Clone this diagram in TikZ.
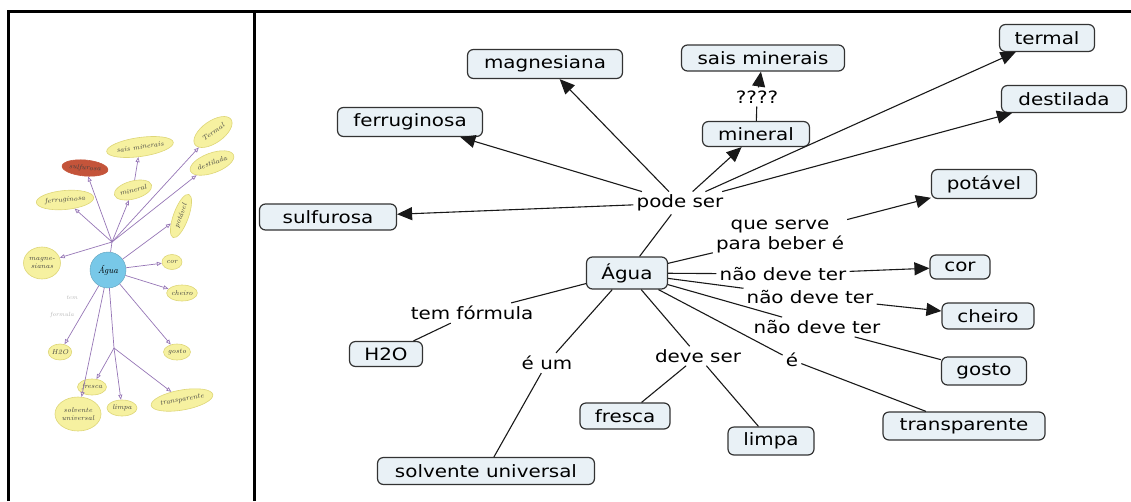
\documentclass[tikz,border=0pt]{standalone}
\usepackage{xcolor}
\usepackage{fontspec}
\usepackage{tikz}
\usetikzlibrary{shapes.geometric, arrows.meta, positioning}
\newfontfamily\cmapfont[FakeStretch=1.17]{DejaVu Sans}
\definecolor{cmapfill}{RGB}{233, 241, 246}
\definecolor{photoyellow}{RGB}{246, 241, 160}
\definecolor{photoedge}{RGB}{222, 214, 120}
\definecolor{photoblue}{RGB}{120, 200, 232}
\definecolor{photored}{RGB}{196, 84, 58}
\definecolor{photopurple}{RGB}{150, 118, 182}

\begin{document}
\begin{tikzpicture}[
    x=1pt, y=-1pt,
    every node/.style={font=\cmapfont\fontsize{17}{20}\selectfont},
    concept/.style={rectangle, rounded corners=6pt, minimum height=27pt, inner sep=2pt, text centered, draw=black!80, fill=cmapfill, line width=1.2pt},
    linkphrase/.style={inner sep=3pt, align=center},
    link/.style={line width=1.1pt, draw=black!90},
    arrow/.style={link, -{Triangle[length=15pt, width=13pt]}},
    blob/.style={ellipse, fill=photoyellow, draw=photoedge, line width=0.6pt, inner sep=0pt, font=\itshape\fontsize{7}{8}\selectfont, text=black!75, align=center},
    sketch/.style={draw=photopurple, line width=0.7pt, -{Triangle[open, length=5pt, width=4pt]}}
]
\useasboundingbox (0,0) rectangle (1131,501);

\draw[line width=3pt] (8,501) -- (8,11) -- (1131,11);
\draw[line width=3pt] (254,11) -- (254,501);

% hand drawn map
\node[circle, fill=photoblue, draw=photoblue!80!black, minimum size=36pt, inner sep=0pt, font=\itshape\fontsize{9}{10}\selectfont] (pagua) at (108,270) {Água};
\node[blob, minimum width=44pt, minimum height=22pt, rotate=35] (ptermal) at (213,132) {Termal};
\node[blob, minimum width=46pt, minimum height=20pt, rotate=20] (pdestilada) at (212,163) {destilada};
\node[blob, minimum width=62pt, minimum height=19pt, rotate=8] (psais) at (140,147) {sais minerais};
\node[blob, minimum width=46pt, minimum height=16pt, fill=photored, draw=photored, rotate=-5] (psulfurosa) at (85,168) {sulfurosa};
\node[blob, minimum width=36pt, minimum height=18pt, rotate=15] (pmineral) at (133,190) {mineral};
\node[blob, minimum width=56pt, minimum height=19pt, rotate=5] (pferruginosa) at (65,200) {ferruginosa};
\node[blob, minimum width=46pt, minimum height=15pt, rotate=70] (ppotavel) at (181,216) {potável};
\node[blob, minimum width=30pt, minimum height=32pt] (pmagnesiana) at (42,263) {magne-\\sianas};
\node[blob, minimum width=20pt, minimum height=15pt] (pcor) at (172,262) {cor};
\node[blob, minimum width=28pt, minimum height=16pt] (pcheiro) at (182,293) {cheiro};
\node[blob, minimum width=27pt, minimum height=16pt] (pgosto) at (177,352) {gosto};
\node[blob, minimum width=54pt, minimum height=20pt, rotate=10] (ptransparente) at (182,400) {transparente};
\node[blob, minimum width=22pt, minimum height=16pt] (phtwoo) at (60,352) {H2O};
\node[blob, minimum width=26pt, minimum height=16pt] (pfresca) at (92,387) {fresca};
\node[blob, minimum width=30pt, minimum height=16pt] (plimpa) at (122,408) {limpa};
\node[blob, minimum width=44pt, minimum height=34pt] (psolvente) at (78,414) {solvente\\universal};
\node[text=black!30, font=\itshape\fontsize{6}{7}\selectfont] (ptem) at (72,298) {tem};
\node[text=black!30, font=\itshape\fontsize{6}{7}\selectfont] (pformula) at (62,315) {formula};

\coordinate (hubtop) at (112,242);
\coordinate (hubbot) at (114,348);
\draw[photopurple, line width=0.7pt] (pagua) -- (hubtop);
\draw[photopurple, line width=0.7pt] (pagua) -- (hubbot);
\foreach \target in {psulfurosa, pferruginosa, pmagnesiana, pmineral, ptermal, pdestilada}
    \draw[sketch] (hubtop) -- (\target);
\draw[sketch] (pmineral) -- (psais);
\foreach \target in {ppotavel, pcor, pcheiro, pgosto, phtwoo, psolvente}
    \draw[sketch] (pagua) -- (\target);
\foreach \target in {pfresca, plimpa, ptransparente}
    \draw[sketch] (hubbot) -- (\target);

% concept map
\node[concept, minimum width=81pt, minimum height=32pt] (agua) at (627,273) {Água};

\node[linkphrase] (podeser) at (680,203) {pode ser};

\node[concept, minimum width=137pt, minimum height=26pt] (sulfurosa) at (328,217) {sulfurosa};

\node[concept, minimum width=145pt, minimum height=29pt] (ferruginosa) at (410,122) {ferruginosa};

\node[concept, minimum width=155pt, minimum height=29pt] (magnesiana) at (545,64) {magnesiana};

\node[concept, minimum width=107pt, minimum height=25pt] (mineral) at (756,134) {mineral};

\node[linkphrase] (interrog) at (757,97) {????};

\node[concept, minimum width=163pt, minimum height=26pt] (sais) at (763,58) {sais minerais};

\node[concept, minimum width=95pt] (termal) at (1047,38) {termal};

\node[concept, minimum width=125pt] (destilada) at (1064,99) {destilada};

\node[concept, minimum width=105pt, minimum height=29pt] (potavel) at (984,184) {potável};

\node[linkphrase] (serve) at (780,237) {que serve\\para beber é};

\node[linkphrase] (naocor) at (783,274) {não deve ter};

\node[concept, minimum width=60pt, minimum height=24pt] (cor) at (960,267) {cor};

\node[linkphrase] (naocheiro) at (810,297) {não deve ter};

\node[concept, minimum width=92pt, minimum height=26pt] (cheiro) at (988,316) {cheiro};

\node[linkphrase] (naogosto) at (817,327) {não deve ter};

\node[concept, minimum width=85pt, minimum height=28pt] (gosto) at (984,371) {gosto};

\node[linkphrase] (eh) at (792,360) {é};

\node[concept, minimum width=162pt, minimum height=28pt] (transparente) at (964,426) {transparente};

\node[linkphrase] (deveser) at (698,356) {deve ser};

\node[concept, minimum width=90pt, minimum height=26pt] (fresca) at (625,416) {fresca};

\node[concept, minimum width=86pt, minimum height=28pt] (limpa) at (771,441) {limpa};

\node[linkphrase] (formula) at (472,313) {tem fórmula};

\node[concept, minimum width=73pt, minimum height=25pt] (htwoo) at (386,354) {H2O};

\node[linkphrase] (ehum) at (547,363) {é um};

\node[concept, minimum width=217pt] (solvente) at (486,471) {solvente universal};

\foreach \phrase in {podeser, serve, naocor, naocheiro, naogosto, eh, deveser, formula, ehum}
    \draw[link] (agua) -- (\phrase);
\foreach \target in {sulfurosa, ferruginosa, magnesiana, mineral, termal, destilada}
    \draw[arrow] (podeser) -- (\target);
\draw[link] (mineral) -- (interrog);
\draw[arrow] (interrog) -- (sais);
\draw[arrow] (serve) -- (potavel);
\draw[arrow] (naocor) -- (cor);
\draw[arrow] (naocheiro) -- (cheiro);
\draw[link] (naogosto) -- (gosto);
\draw[link] (eh) -- (transparente);
\draw[link] (deveser) -- (fresca);
\draw[link] (deveser) -- (limpa);
\draw[link] (formula) -- (htwoo);
\draw[link] (ehum) -- (solvente);

\end{tikzpicture}
\end{document}
